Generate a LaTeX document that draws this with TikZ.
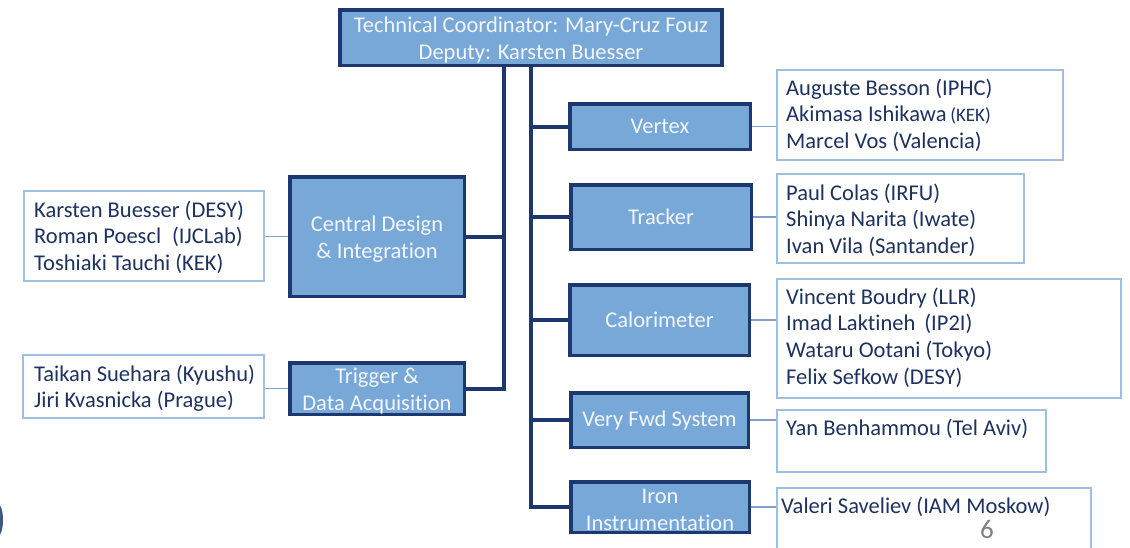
\documentclass[tikz,border=0pt]{standalone}
\usepackage{fontspec}
\setmainfont{Carlito}[Ligatures=NoCommon]
\definecolor{navy}{RGB}{28,56,110}
\definecolor{boxblue}{RGB}{120,168,216}
\definecolor{plblue}{RGB}{160,190,225}
\definecolor{thinline}{RGB}{130,160,200}
\definecolor{ptext}{RGB}{30,50,95}
\definecolor{boxtext}{RGB}{242,246,252}
\tikzset{
  bbox/.style={draw=navy, line width=3.5pt, fill=boxblue, text=boxtext,
    font=\fontsize{22.5}{27}\selectfont, align=center, inner sep=0pt},
  pbox/.style={draw=plblue, line width=1.2pt, inner sep=0pt},
  ptxt/.style={text=ptext, font=\fontsize{22.5}{26.6}\selectfont, align=left,
    inner sep=0pt, anchor=north west},
  conn/.style={draw=navy, line width=4pt},
  thin/.style={draw=thinline, line width=1.2pt}
}
\newcommand{\fs}{\rule{0pt}{18pt}}
\newcommand{\bs}{\rule{0pt}{20.5pt}}
\begin{document}
\begin{tikzpicture}[x=1pt,y=-1pt]
\useasboundingbox (0,0) rectangle (1130,547);
\clip (0,0) rectangle (1130,547);
\fill[white] (0,0) rectangle (1130,547);
% coordinates of trunk lines
\coordinate (L) at (504,0);
\coordinate (R) at (531,0);
% main boxes
\node[bbox, minimum width=382pt, minimum height=55.5pt] (top) at (531,37.5)
  {\bs Technical Coordinator: Mary-Cruz Fouz\\Deputy: Karsten Buesser};
\node[bbox, minimum width=180.5pt, minimum height=45.5pt] (vtx) at (660,126.5) {Vertex};
\node[bbox, minimum width=180.5pt, minimum height=64.5pt] (trk) at (661,217) {Tracker};
\node[bbox, minimum width=179.5pt, minimum height=70.5pt] (cal) at (659.5,320) {Calorimeter};
\node[bbox, minimum width=177.5pt, minimum height=54.5pt] (vfs) at (659.5,420) {Very Fwd System};
\node[bbox, minimum width=178.5pt, minimum height=50.5pt] (iron) at (660,507) {\bs Iron\\Instrumentation};
\node[bbox, minimum width=174.5pt, minimum height=119.5pt] (cdi) at (377,236.5) {\bs Central Design\\\& Integration};
\node[bbox, minimum width=174.5pt, minimum height=51.5pt] (trig) at (377,388.5) {\bs Trigger \&\\Data Acquisition};
% people boxes
\node[pbox, minimum width=286pt, minimum height=90pt] (vtxp) at (920,115) {};
\node[pbox, minimum width=247pt, minimum height=89pt] (trkp) at (900.5,218.5) {};
\node[pbox, minimum width=344pt, minimum height=119pt] (calp) at (949,338.5) {};
\node[pbox, minimum width=269pt, minimum height=62pt] (vfsp) at (911.5,441) {};
\node[pbox, minimum width=314pt, minimum height=64pt] (ironp) at (934,520) {};
\node[pbox, minimum width=240pt, minimum height=90pt] (cdip) at (144,236) {};
\node[pbox, minimum width=241pt, minimum height=63pt] (trigp) at (143.5,386.5) {};
% people text
\node[ptxt] (vtxt) at (786,77) {\fs Auguste Besson (IPHC)\\Akimasa Ishikawa\,{\fontsize{19}{20}\selectfont(KEK)}\\Marcel Vos (Valencia)};
\node[ptxt] (trkt) at (786,182) {\fs Paul Colas (IRFU)\\Shinya Narita (Iwate)\\Ivan Vila (Santander)};
\node[ptxt] (calt) at (786,286) {\fs Vincent Boudry (LLR)\\Imad Laktineh\hspace{9pt}(IP2I)\\Wataru Ootani (Tokyo)\\Felix Sefkow (DESY)};
\node[ptxt] (vfst) at (786,417) {\fs Yan Benhammou (Tel Aviv)};
\node[ptxt] (ironst) at (781,495) {\fs Valeri Saveliev (IAM Moskow)};
\node[ptxt] (cdit) at (34,199) {\fs Karsten Buesser (DESY)\\Roman Poescl\hspace{11pt}(IJCLab)\\Toshiaki Tauchi (KEK)};
\node[ptxt] (trigt) at (34,363) {\fs Taikan Suehara (Kyushu)\\Jiri Kvasnicka (Prague)};
% slide number
\node[text=black!50, font=\fontsize{27}{30}\selectfont, inner sep=0pt] (num) at (987,529) {6};
% trunk connectors
\draw[conn] (top.south -| L) |- (trig.east);
\draw[conn] (L |- cdi.east) -- (cdi.east);
\draw[conn] (top.south -| R) |- (iron.west);
\draw[conn] (R |- vtx.west) -- (vtx.west);
\draw[conn] (R |- trk.west) -- (trk.west);
\draw[conn] (R |- cal.west) -- (cal.west);
\draw[conn] (R |- vfs.west) -- (vfs.west);
% thin connectors
\draw[thin] (vtx.east) -- (vtx.east -| vtxp.west);
\draw[thin] (trk.east) -- (trk.east -| trkp.west);
\draw[thin] (cal.east) -- (cal.east -| calp.west);
\draw[thin] (vfs.east) -- (vfs.east -| vfsp.west);
\draw[thin] (iron.east) -- (iron.east -| ironp.west);
\draw[thin] (cdi.west) -- (cdi.west -| cdip.east);
\draw[thin] (trig.west) -- (trig.west -| trigp.east);
% edge blob
\fill[navy!85] (-2,520) ellipse (5pt and 16pt);
\end{tikzpicture}
\end{document}
